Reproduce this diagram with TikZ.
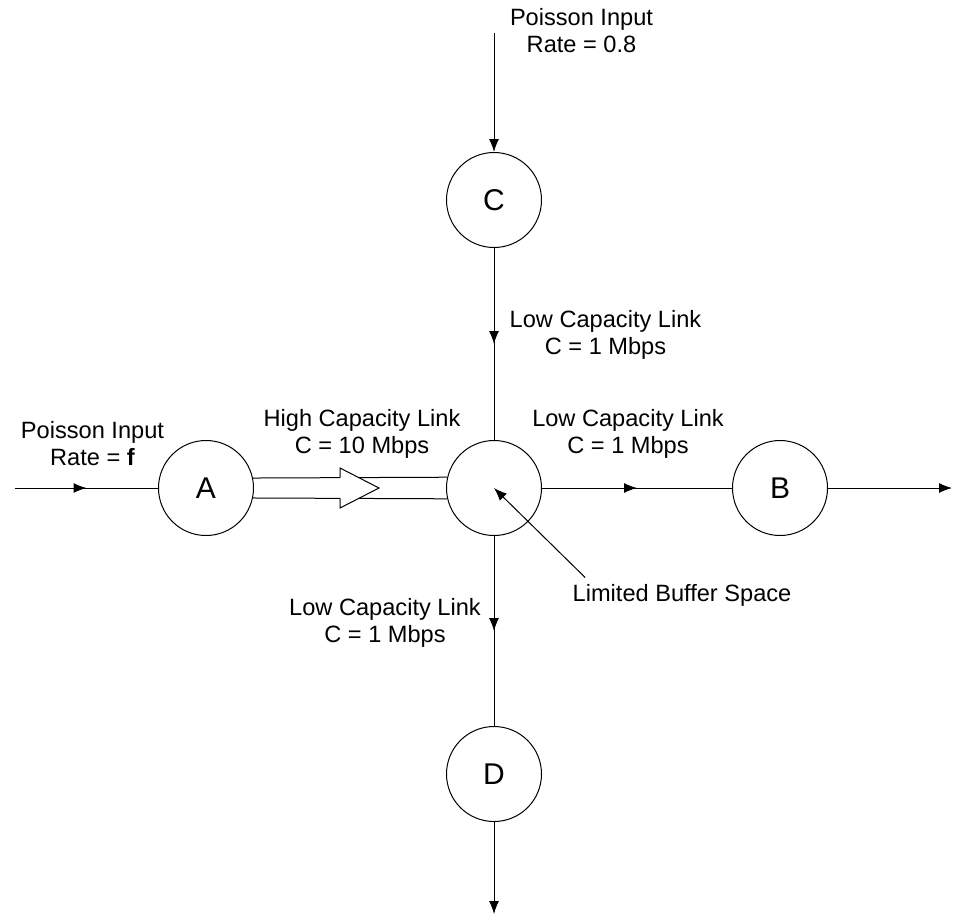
\documentclass[tikz,border=0pt]{standalone}
\usepackage{fontspec}
\setmainfont{Liberation Sans}
\usetikzlibrary{arrows.meta, positioning, calc, decorations.markings}

\begin{document}
\begin{tikzpicture}[x=1pt, y=-1pt, line width=1pt,
	stn/.style={draw, circle, minimum size=95pt, inner sep=0pt, font=\fontsize{30}{32}\selectfont},
	lbl/.style={align=center, inner sep=0pt, font=\fontsize{23.6}{27}\selectfont},
	tip/.style={-{Latex[length=13pt,width=10pt]}},
	midarrow/.style={postaction={decorate}, decoration={markings, mark=at position 0.5 with {\arrow{Latex[length=13pt,width=10pt]}}}}]
	\useasboundingbox (0,0) rectangle (957,916);
	\node[stn] (hub) at (494,488) {};
	\node[stn] (A) at (206,488) {A};
	\node[stn] (B) at (780,488) {B};
	\node[stn] (C) at (494,200) {C};
	\node[stn] (D) at (494,774) {D};
	\coordinate (ain) at (15,488);
	\coordinate (cin) at (494,33);
	\coordinate (bout) at (952,488);
	\coordinate (dout) at (494,914);
	\node[lbl] at (92.5,443.5) {Poisson Input\\Rate = \textbf{f}};
	\node[lbl] at (581.5,31) {Poisson Input\\Rate = 0.8};
	\node[lbl] at (605.5,334.5) {Low Capacity Link\\C = 1 Mbps};
	\node[lbl] at (362,433.5) {High Capacity Link\\C = 10 Mbps};
	\node[lbl] at (628,433.5) {Low Capacity Link\\C = 1 Mbps};
	\node[lbl] at (385,623) {Low Capacity Link\\C = 1 Mbps};
	\node[lbl] (buf) at (682,595) {Limited Buffer Space};
	\draw[midarrow] (ain) -- (A);
	\draw[tip] (cin) -- (C);
	\draw[midarrow] (C) -- (hub);
	\draw[midarrow] (hub) -- (B);
	\draw[tip] (B) -- (bout);
	\draw[midarrow] (hub) -- (D);
	\draw[tip] (D) -- (dout);
	\draw (A.12.5) -- (hub.167.5);
	\draw (A.-12.5) -- (hub.-167.5);
	\draw[fill=white] (340,477.7) -- (340,468) -- (379,488) -- (340,508) -- (340,498.3);
	\draw[tip] ([shift={(13,-6)}]buf.north west) -- (hub.center);
\end{tikzpicture}
\end{document}
